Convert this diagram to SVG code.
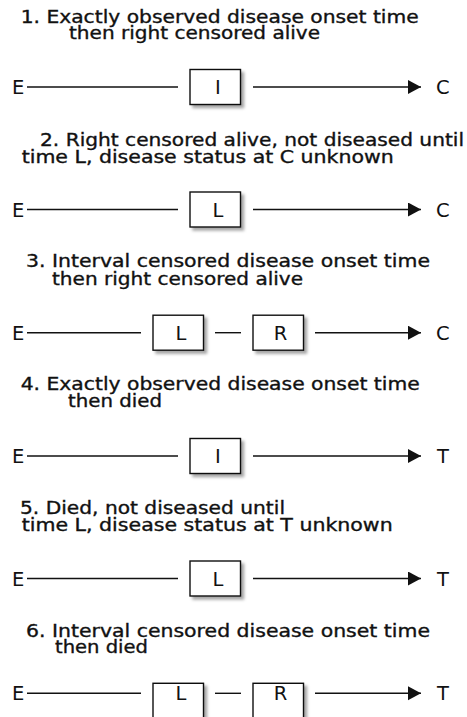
<svg xmlns="http://www.w3.org/2000/svg" width="467" height="717" viewBox="0 0 467 717">
<style>
.t{font-family:"DejaVu Sans",sans-serif;font-size:17.5px;fill:#111;stroke:#111;stroke-width:0.35}
.lb{font-family:"DejaVu Sans",sans-serif;font-size:19.5px;fill:#111}
.bl{font-family:"DejaVu Sans",sans-serif;font-size:19.5px;fill:#111;text-anchor:middle}
.ln{stroke:#111;stroke-width:1.4;fill:none}
.box{fill:#fff;stroke:#111;stroke-width:1.4;filter:url(#sh)}
</style>
<defs>
<filter id="sh" x="-20%" y="-20%" width="150%" height="160%">
<feDropShadow dx="3" dy="3" stdDeviation="1.6" flood-color="#000" flood-opacity="0.35"/>
</filter>
<marker id="ah" markerUnits="userSpaceOnUse" markerWidth="14" markerHeight="15" refX="13" refY="7" orient="auto">
<path d="M0,0 L13,7 L0,14 z" fill="#111"/>
</marker>
</defs>

<g id="titles">
<text class="t" x="20.7" y="22.5" textLength="398" lengthAdjust="spacingAndGlyphs">1. Exactly observed disease onset time</text>
<text class="t" x="69" y="39" textLength="251" lengthAdjust="spacingAndGlyphs">then right censored alive</text>
<text class="t" x="40" y="146" textLength="424" lengthAdjust="spacingAndGlyphs">2. Right censored alive, not diseased until</text>
<text class="t" x="21.7" y="163" textLength="372" lengthAdjust="spacingAndGlyphs">time L, disease status at C unknown</text>
<text class="t" x="26" y="267" textLength="404" lengthAdjust="spacingAndGlyphs">3. Interval censored disease onset time</text>
<text class="t" x="52" y="284.5" textLength="251" lengthAdjust="spacingAndGlyphs">then right censored alive</text>
<text class="t" x="20.7" y="390" textLength="399" lengthAdjust="spacingAndGlyphs">4. Exactly observed disease onset time</text>
<text class="t" x="68" y="406.7" textLength="94" lengthAdjust="spacingAndGlyphs">then died</text>
<text class="t" x="20" y="514" textLength="265" lengthAdjust="spacingAndGlyphs">5. Died, not diseased until</text>
<text class="t" x="21.7" y="530.7" textLength="371" lengthAdjust="spacingAndGlyphs">time L, disease status at T unknown</text>
<text class="t" x="26" y="636.7" textLength="404" lengthAdjust="spacingAndGlyphs">6. Interval censored disease onset time</text>
<text class="t" x="55" y="653.3" textLength="93" lengthAdjust="spacingAndGlyphs">then died</text>
</g>

<g id="connectors">
<line class="ln" x1="27" y1="87" x2="178" y2="87"/>
<line class="ln" x1="253" y1="87" x2="421" y2="87" marker-end="url(#ah)"/>
<line class="ln" x1="27" y1="209.5" x2="178" y2="209.5"/>
<line class="ln" x1="253" y1="209.5" x2="421" y2="209.5" marker-end="url(#ah)"/>
<line class="ln" x1="27" y1="332.7" x2="141" y2="332.7"/>
<line class="ln" x1="215" y1="332.7" x2="241" y2="332.7"/>
<line class="ln" x1="315" y1="332.7" x2="421" y2="332.7" marker-end="url(#ah)"/>
<line class="ln" x1="27" y1="456" x2="178" y2="456"/>
<line class="ln" x1="253" y1="456" x2="421" y2="456" marker-end="url(#ah)"/>
<line class="ln" x1="27" y1="578.5" x2="178" y2="578.5"/>
<line class="ln" x1="253" y1="578.5" x2="421" y2="578.5" marker-end="url(#ah)"/>
<line class="ln" x1="27" y1="693.3" x2="141" y2="693.3"/>
<line class="ln" x1="215" y1="693.3" x2="241" y2="693.3"/>
<line class="ln" x1="315" y1="693.3" x2="421" y2="693.3" marker-end="url(#ah)"/>
</g>

<g id="row1">
<text class="lb" x="12" y="94">E</text>
<g id="r1-I"><rect class="box" x="190" y="69.5" width="50.5" height="35"/><text class="bl" x="218" y="94">I</text></g>
<text class="lb" x="436" y="94">C</text>
</g>
<g id="row2">
<text class="lb" x="12" y="216.5">E</text>
<g id="r2-L"><rect class="box" x="190" y="192" width="50.5" height="35"/><text class="bl" x="218" y="216.5">L</text></g>
<text class="lb" x="436" y="216.5">C</text>
</g>
<g id="row3">
<text class="lb" x="12" y="339.7">E</text>
<g id="r3-L"><rect class="box" x="153" y="315.2" width="50.5" height="35"/><text class="bl" x="181" y="339.7">L</text></g>
<g id="r3-R"><rect class="box" x="253" y="315.2" width="50.5" height="35"/><text class="bl" x="280.5" y="339.7">R</text></g>
<text class="lb" x="436" y="339.7">C</text>
</g>
<g id="row4">
<text class="lb" x="12" y="463">E</text>
<g id="r4-I"><rect class="box" x="190" y="438.5" width="50.5" height="35"/><text class="bl" x="218" y="463">I</text></g>
<text class="lb" x="437" y="463">T</text>
</g>
<g id="row5">
<text class="lb" x="12" y="585.5">E</text>
<g id="r5-L"><rect class="box" x="190" y="561" width="50.5" height="35"/><text class="bl" x="218" y="585.5">L</text></g>
<text class="lb" x="437" y="585.5">T</text>
</g>
<g id="row6">
<text class="lb" x="12" y="700.3">E</text>
<g id="r6-L"><rect class="box" x="153" y="683.3" width="50.5" height="35"/><text class="bl" x="181" y="700.3">L</text></g>
<g id="r6-R"><rect class="box" x="253" y="683.3" width="50.5" height="35"/><text class="bl" x="280.5" y="700.3">R</text></g>
<text class="lb" x="437" y="700.3">T</text>
</g>
</svg>
